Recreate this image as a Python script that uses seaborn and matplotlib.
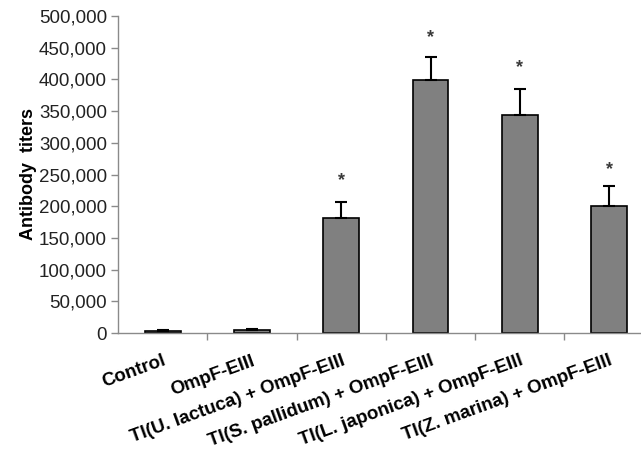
import matplotlib
matplotlib.use("Agg")
import matplotlib.pyplot as plt
import seaborn as sns
import pandas as pd
import numpy as np
from matplotlib.ticker import FuncFormatter, FixedLocator

categories = ["Control", "OmpF-EIII", "TI(U. lactuca) + OmpF-EIII",
              "TI(S. pallidum) + OmpF-EIII", "TI(L. japonica) + OmpF-EIII",
              "TI(Z. marina) + OmpF-EIII"]
values = [3000, 5000, 182000, 399000, 344000, 200000]
errors = [1500, 1500, 25000, 37000, 41000, 32000]
significant = [False, False, True, True, True, True]
star_y = [None, None, 240000, 466000, 418000, 258000]

sns.set_theme(style="white")
plt.rcParams["font.family"] = ["Liberation Sans", "DejaVu Sans"]

fig = plt.figure(figsize=(6.41, 4.51), dpi=100)
ax = fig.add_axes([118/641, 1-333/451, 6*89.3/641, (333-16)/451])

df = pd.DataFrame({"group": categories, "titer": values})
sns.barplot(data=df, x="group", y="titer", order=categories, color="#808080",
            edgecolor="black", linewidth=1.2, width=0.4, saturation=1, ax=ax)

xs = np.arange(len(categories))
ax.errorbar(xs, values, yerr=[np.zeros(len(errors)), errors], fmt="none",
            ecolor="black", elinewidth=1.5, capsize=4, capthick=1.5, zorder=3)
for x, s, y in zip(xs, significant, star_y):
    if s:
        ax.text(x, y, "*", ha="center", va="center", fontsize=13,
                fontweight="bold", color="#3a3a3a")

ax.set_xlim(-0.5, len(categories) - 0.5)
ax.set_ylim(0, 500000)
ax.yaxis.set_major_locator(FixedLocator(np.arange(0, 500001, 50000)))
ax.yaxis.set_major_formatter(FuncFormatter(lambda v, p: f"{int(v):,}"))

for sp in ["top", "right"]:
    ax.spines[sp].set_visible(False)
for sp in ["left", "bottom"]:
    ax.spines[sp].set_color("#8a8a8a")
    ax.spines[sp].set_linewidth(1.0)

ax.tick_params(axis="y", which="major", direction="out", length=5, width=1,
               color="#8a8a8a", labelsize=13.5, labelcolor="#222222", pad=3, left=True)
ax.set_xticks(xs)
ax.set_xticklabels(categories, rotation=20, ha="right", rotation_mode="anchor",
                   fontweight="bold", fontsize=13.5, color="black")
ax.tick_params(axis="x", which="major", length=0, pad=14)
ax.set_xticks(np.arange(0.5, len(categories) - 0.5, 1), minor=True)
ax.tick_params(axis="x", which="minor", direction="out", length=5, width=1,
               color="#8a8a8a", bottom=True)

ax.set_xlabel("")
ax.set_ylabel("Antibody  titers", fontsize=13, fontweight="bold", color="black", labelpad=1)

fig.savefig("out.png", dpi=100)
